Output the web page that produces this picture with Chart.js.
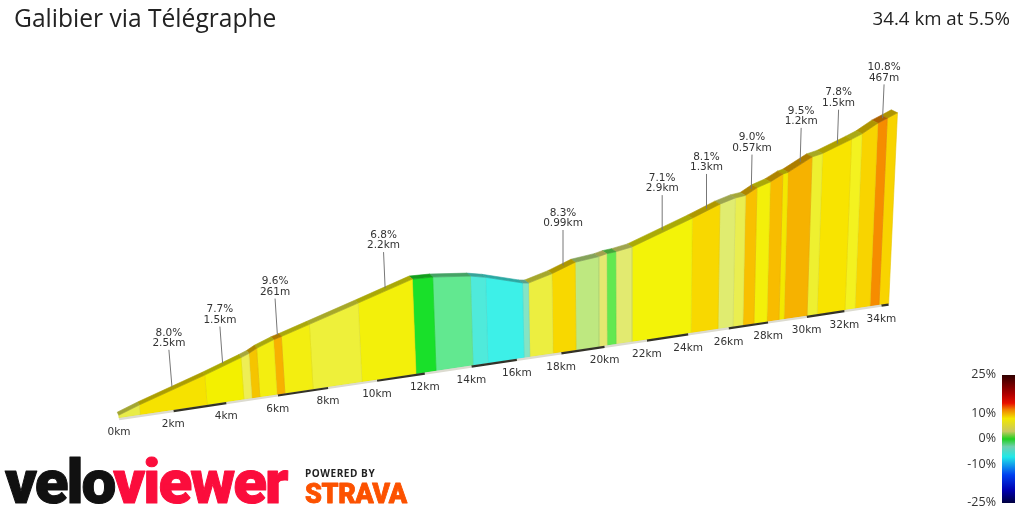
<!DOCTYPE html>
<html><head><meta charset="utf-8">
<style>html,body{margin:0;padding:0;background:#fff}canvas{display:block}</style>
<script src="https://cdn.jsdelivr.net/npm/chart.js@4"></script>
</head><body><canvas id="c" width="1024" height="512"></canvas>
<script>
// ---- data ----
const titleText = "Galibier via Télégraphe";
const summaryText = "34.4 km at 5.5%";
const bandEdgesKm = [0,0.77,3.27,4.68,4.99,5.30,5.97,6.28,7.40,9.38,11.63,12.48,14.07,14.72,16.32,16.58,17.63,18.68,19.74,20.12,20.54,21.29,24.14,25.47,26.22,26.72,27.28,27.94,28.56,28.82,30.02,30.55,32.03,32.57,33.38,33.87,34.40];
const edgeHeightM = [24,81,247,349,374,408,460,478,549,676,824,820,788,761,670,662,720,797,822,840,848,874,1075,1178,1221,1234,1295,1338,1400,1412,1537,1561,1672,1716,1807,1847,1892];
const bandColors = ["#e8ec48","#f6e200","#f3f000","#eeee55","#f5c400","#f3ee10","#f8b000","#f3ee10","#eef03a","#f3f00a","#19e02a","#62e890","#4feadb","#3df0e8","#84e4c4","#ecee40","#f8d800","#bee880","#e4e870","#62e850","#e2ea70","#f3f308","#f8d800","#e0ec70","#eaee50","#f8c000","#f3f00a","#f8bc00","#f3e800","#f6b200","#eef030","#f8e400","#f3f220","#f8d400","#f68c00","#f8d400"];
const distanceTicksKm = [0,2,4,6,8,10,12,14,16,18,20,22,24,26,28,30,32,34];
const calloutKm = [2.02,3.97,6.13,10.5,18.15,22.7,24.8,27.0,29.42,31.3,33.62];
const calloutGrade = ["8.0%","7.7%","9.6%","6.8%","8.3%","7.1%","8.1%","9.0%","9.5%","7.8%","10.8%"];
const calloutLength = ["2.5km","1.5km","261m","2.2km","0.99km","2.9km","1.3km","0.57km","1.2km","1.5km","467m"];
const legendTicks = [25,10,0,-10,-25];
const legendStopGrades = [25,17.5,14,11.5,8,3,0,-3,-7,-14,-20,-25];
const legendStopColors = ["#300000","#b00000","#e81000","#f08000","#f3e800","#c8c860","#20d020","#70d0b0","#20e8e8","#0040f0","#0000b0","#000040"];

// ---- oblique projection of (km, metres, depth) on to the chart's scales ----
const persp = 0.0067, kmScale = 27.53, mScale = 0.1242, tilt = 0.00018;
function project(km, m, depth){
  const x0 = 119 + kmScale*km/(1+persp*km);
  const yb = 418 - 0.1486*(x0-120);
  const h = m*mScale/(1+persp*km);
  let x = x0 + h*(x0-632)*tilt, y = yb - h;
  if(depth){ x -= 1.5 + 0.006*(x-120); y -= 3; }
  return {x, y};
}
function heightAt(km){
  for(let i=1;i<bandEdgesKm.length;i++){
    if(km<=bandEdgesKm[i]){
      const t=(km-bandEdgesKm[i-1])/(bandEdgesKm[i]-bandEdgesKm[i-1]);
      return edgeHeightM[i-1]+t*(edgeHeightM[i]-edgeHeightM[i-1]);
    }
  }
  return edgeHeightM[edgeHeightM.length-1];
}
const leaderTop = km => heightAt(km) + 325 + km;
function shade(hex,f){
  const n=parseInt(hex.slice(1),16);
  const c=[(n>>16)&255,(n>>8)&255,n&255].map(v=>Math.round(v*f));
  return `rgb(${c[0]},${c[1]},${c[2]})`;
}
const poly=(data,color,edge)=>({type:'scatter',showLine:true,data,fill:'shape',backgroundColor:color,borderColor:edge||color,borderWidth:0.6,pointRadius:0,tension:0});
const stroke=(data,color,w)=>({type:'scatter',showLine:true,data,fill:false,borderColor:color,borderWidth:w,pointRadius:0,tension:0,borderCapStyle:'butt'});

const datasets=[];
// callout leaders
calloutKm.forEach(km=>{
  datasets.push(stroke([project(km,heightAt(km)+25),project(km,leaderTop(km))],"#777777",1));
});
// distance strip
for(let i=0;i<34;i+=2){
  datasets.push(stroke([project(i,-8),project(i+2,-8)],(i/2)%2?"#333228":"#dcdbd0",2.2));
}
datasets.push(stroke([project(34,-8),project(34.4,-8)],"#333228",2.2));
// road surface and wall bands
bandColors.forEach((col,i)=>{
  const a=bandEdgesKm[i],b=bandEdgesKm[i+1],ma=edgeHeightM[i],mb=edgeHeightM[i+1];
  datasets.push(poly([project(a,ma),project(b,mb),project(b,mb,1),project(a,ma,1),project(a,ma)],shade(col,0.7)));
  datasets.push(poly([project(a,ma),project(b,mb),project(b,0),project(a,0),project(a,ma)],col,shade(col,0.93)));
});
// gradient colour bar
const barLeft=1002,barRight=1015,barTop=375,barPxPerGrade=2.56;
const gradeY=g=>barTop+(25-g)*barPxPerGrade;
datasets.push({type:'scatter',showLine:true,fill:'shape',pointRadius:0,borderWidth:0,
  data:[{x:barLeft,y:gradeY(25)},{x:barRight,y:gradeY(25)},{x:barRight,y:gradeY(-25)},{x:barLeft,y:gradeY(-25)},{x:barLeft,y:gradeY(25)}],
  backgroundColor(ctx){
    const g=ctx.chart.ctx.createLinearGradient(0,gradeY(25),0,gradeY(-25));
    legendStopGrades.forEach((v,i)=>g.addColorStop((25-v)/50,legendStopColors[i]));
    return g;
  }});

const textPlugin={id:'texts',afterDraw(chart){
  const c=chart.ctx,X=chart.scales.x,Y=chart.scales.y;
  const put=(t,x,y,font,col,align,base)=>{c.font=font;c.fillStyle=col;c.textAlign=align||'left';c.textBaseline=base||'middle';c.fillText(t,x,y);};
  c.save();
  put(titleText,14,20,'24.6px "Open Sans"','#222','left');
  put(summaryText,1010,19.5,'18.7px "Open Sans"','#222','right');
  const small='10.5px "DejaVu Sans"';
  distanceTicksKm.forEach(km=>{const p=project(km,0);put(km+'km',X.getPixelForValue(p.x),Y.getPixelForValue(p.y)+14.5,small,'#333','center');});
  calloutKm.forEach((km,i)=>{
    const p=project(km,leaderTop(km));
    const x=X.getPixelForValue(p.x),y=Y.getPixelForValue(p.y);
    put(calloutGrade[i],x,y-17,small,'#333','center');
    put(calloutLength[i],x,y-6.5,small,'#333','center');
  });
  legendTicks.forEach(g=>put(g+'%',996,Y.getPixelForValue(gradeY(g))-0.2,'12.5px "Open Sans"','#333','right'));
  // logos
  c.letterSpacing='-2px';
  const logoFont='900 62px Roboto';
  c.lineJoin='round';
  put('velo',5,503,logoFont,'#111','left','alphabetic');
  const w=c.measureText('velo').width;
  c.lineWidth=1;c.strokeStyle='#111';c.strokeText('velo',5,503);
  put('viewer',5+w-1,503,logoFont,'#fb0d3c','left','alphabetic');
  c.strokeStyle='#fb0d3c';c.strokeText('viewer',5+w-1,503);
  c.letterSpacing='0.55px';
  put('POWERED BY',305,474,'bold 10px "Open Sans"','#222','left');
  c.letterSpacing='-0.4px';
  put('STRAVA',305,503,'900 27px Roboto','#fc5200','left','alphabetic');
  c.lineWidth=0.8;c.strokeStyle='#fc5200';c.strokeText('STRAVA',305,503);
  c.restore();
}};

new Chart(document.getElementById('c'),{
  type:'scatter',
  data:{datasets},
  options:{responsive:false,animation:false,devicePixelRatio:1,
    layout:{padding:0},
    plugins:{legend:{display:false},tooltip:{enabled:false}},
    scales:{x:{type:'linear',min:0,max:1024,display:false},y:{type:'linear',min:0,max:512,reverse:true,display:false}}},
  plugins:[textPlugin]
});
</script></body></html>
